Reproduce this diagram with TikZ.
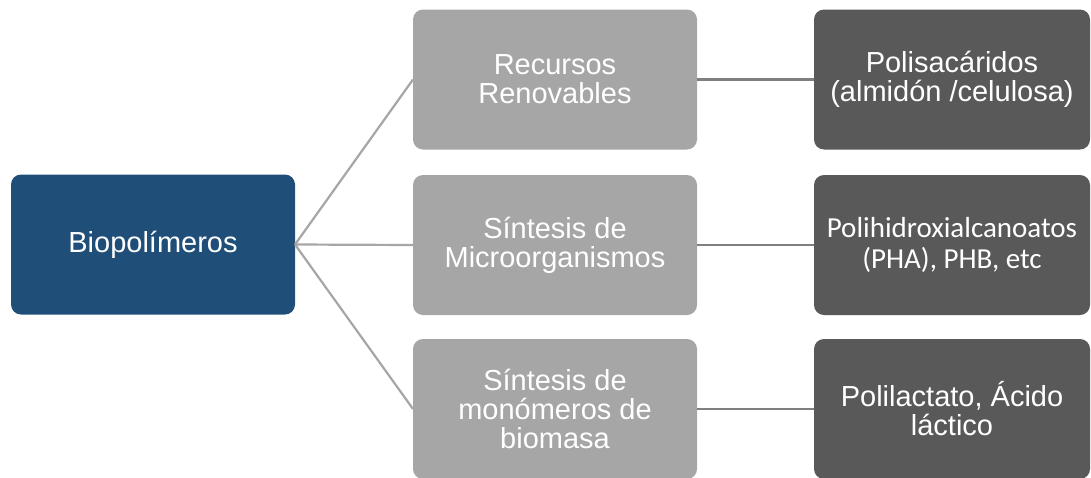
\documentclass[tikz,border=0pt]{standalone}
\usepackage{fontspec}
\setmainfont{Liberation Sans}
\newfontfamily\calibrifont{Carlito}
\usetikzlibrary{calc}
\definecolor{BioBlue}{HTML}{1F4E79}
\definecolor{SourceGray}{HTML}{A6A6A6}
\definecolor{ProductGray}{HTML}{595959}
\definecolor{LinkLight}{HTML}{A6A6A6}
\definecolor{LinkDark}{HTML}{7F7F7F}
\newcommand{\boxsizey}{70pt}
\newcommand{\rootsizex}{142pt}
\newcommand{\srcsizex}{142pt}
\newcommand{\prodsizex}{138pt}
\newcommand{\srcx}{555}
\newcommand{\prodx}{952}
\newcommand{\rowa}{79.5}
\newcommand{\rowb}{245}
\newcommand{\rowc}{409}

\begin{document}
\begin{tikzpicture}[x=0.5pt,y=-0.5pt,
    box/.style={rounded corners=5pt,inner sep=0pt,outer sep=0pt,
      minimum height=\boxsizey,align=center,text=white,
      font=\fontsize{14.5}{14.5}\selectfont},
    rootbox/.style={box,fill=BioBlue,minimum width=\rootsizex},
    srcbox/.style={box,fill=SourceGray,minimum width=\srcsizex},
    prodbox/.style={box,fill=ProductGray,minimum width=\prodsizex},
    link/.style={draw=LinkLight,line width=1.1pt},
    linkdark/.style={draw=LinkDark,line width=1.1pt}]
    \useasboundingbox (0,0) rectangle (1091,477);
    \clip (0,0) rectangle (1091,477);
    % root part
    \node[rootbox] (bio) at (153,244.5) {Biopolímeros};
    % source part
    \node[srcbox] (renov) at (\srcx,\rowa) {Recursos\\Renovables};
    \node[srcbox] (micro) at (\srcx,\rowb) {Síntesis de\\Microorganismos};
    \node[srcbox] (monom) at (\srcx,\rowc) {Síntesis de\\monómeros de\\biomasa};
    % product part
    \node[prodbox] (polisac) at (\prodx,\rowa) {Polisacáridos\\(almidón /celulosa)};
    \node[prodbox,font=\calibrifont\fontsize{14.5}{15.5}\selectfont] (pha)
      at (\prodx,\rowb) {Polihidroxialcanoatos\\(PHA), PHB, etc};
    \node[prodbox] (pla) at (\prodx,\rowc) {Polilactato, Ácido\\láctico};
    % links
    \draw[link] (bio.east) -- (renov.west);
    \draw[link] (bio.east) -- (micro.west);
    \draw[link] (bio.east) -- (monom.west);
    \draw[linkdark] (renov.east) -- (polisac.west);
    \draw[linkdark] (micro.east) -- (pha.west);
    \draw[linkdark] (monom.east) -- (pla.west);
\end{tikzpicture}
\end{document}
